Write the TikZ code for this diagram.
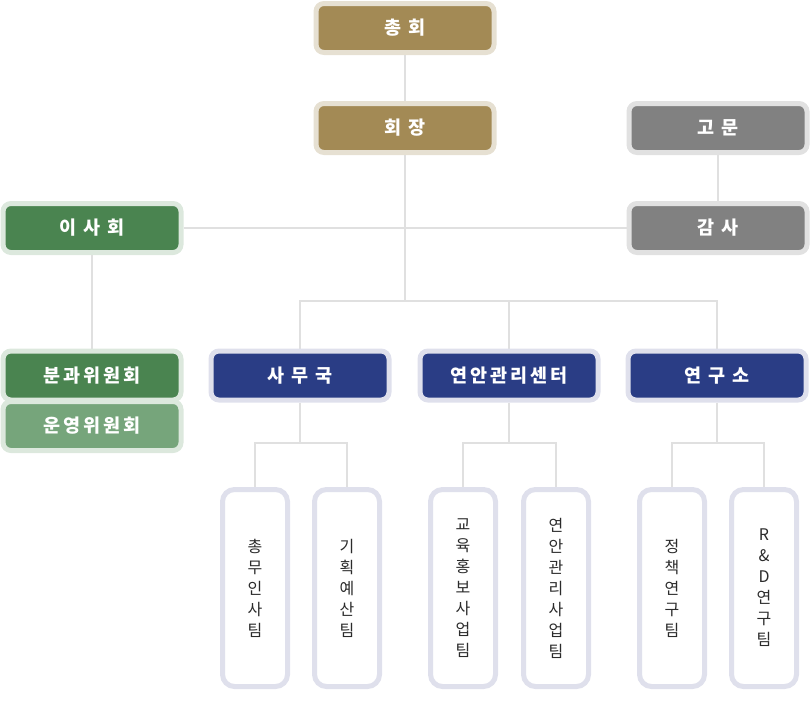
\documentclass[tikz,border=0pt]{standalone}
\usepackage{fontspec}
\setmainfont{Noto Sans CJK KR}
\usetikzlibrary{backgrounds}
\definecolor{goldfill}{HTML}{A38A55}
\definecolor{goldline}{HTML}{E6E0D2}
\definecolor{grayfill}{HTML}{818181}
\definecolor{grayline}{HTML}{E1E1E1}
\definecolor{greenfill}{HTML}{4A8450}
\definecolor{paleGreen}{HTML}{76A57B}
\definecolor{greenline}{HTML}{DCE8DD}
\definecolor{navyfill}{HTML}{2A3D85}
\definecolor{navyline}{HTML}{DFE0EC}
\definecolor{linkgray}{HTML}{E0E0E0}
\definecolor{teamtext}{HTML}{2B2B2B}
\tikzset{
  box/.style 2 args={draw=#2,fill=#1,line width=5pt,rounded corners=8pt,
    minimum width=178pt,minimum height=49pt,inner sep=0pt,text=white,
    font=\fontsize{18.5}{21}\selectfont\bfseries\addfontfeature{LetterSpace=17}},
  team/.style={draw=navyline,fill=white,line width=5pt,rounded corners=12pt,
    minimum width=65pt,minimum height=197pt,inner sep=0pt,align=center,
    text=teamtext,font=\fontsize{16}{21}\selectfont},
  link/.style={draw=linkgray,line width=2pt}
}

\begin{document}
\begin{tikzpicture}[x=1pt,y=-1pt]
    \useasboundingbox (0,0) rectangle (810,720);

    \node [box={goldfill}{goldline}] (general) at (405,28) {총 회};
    \node [box={goldfill}{goldline}] (chair) at (405,128) {회 장};
    \node [box={grayfill}{grayline}] (advisor) at (718,128) {고 문};
    \node [box={grayfill}{grayline}] (audit) at (718,228) {감 사};
    \node [box={greenfill}{greenline}] (board) at (92,228) {이 사 회};
    \node [box={greenfill}{greenline}] (subcom) at (92,375.5) {분과위원회};
    \node [box={paleGreen}{greenline}] (opcom) at (92,426) {운영위원회};

    \node [box={navyfill}{navyline}] (office) at (300,375.5) {사 무 국};
    \node [box={navyfill}{navyline}] (coast) at (509,375.5) {연안관리센터};
    \node [box={navyfill}{navyline}] (lab) at (717,375.5) {연 구 소};

    \node [team] (general team) at (255,588) {총\\무\\인\\사\\팀};
    \node [team] (budget team) at (347,588) {기\\획\\예\\산\\팀};
    \node [team] (edu team) at (463,588) {교\\육\\홍\\보\\사\\업\\팀};
    \node [team] (coast team) at (556,588) {연\\안\\관\\리\\사\\업\\팀};
    \node [team] (policy team) at (672,588) {정\\책\\연\\구\\팀};
    \node [team] (rd team) at (764,588) {R\\\&\\D\\연\\구\\팀};

    \begin{scope}[on background layer]
    \coordinate (split) at (405,301);
    \draw [link] (general) -- (chair);
    \draw [link] (chair) -- (split);
    \draw [link] (board) -- (audit);
    \draw [link] (advisor) -- (audit);
    \draw [link] (board) -- (subcom);
    \draw [link] (office) |- (split) -| (lab);
    \draw [link] (split) -| (coast);

    \draw [link] (office) -- (office |- 0,443) coordinate (o) -| (general team) (o) -| (budget team);
    \draw [link] (coast) -- (coast |- 0,443) coordinate (c) -| (edu team) (c) -| (coast team);
    \draw [link] (lab) -- (lab |- 0,443) coordinate (l) -| (policy team) (l) -| (rd team);
    \end{scope}
  \end{tikzpicture}
\end{document}
